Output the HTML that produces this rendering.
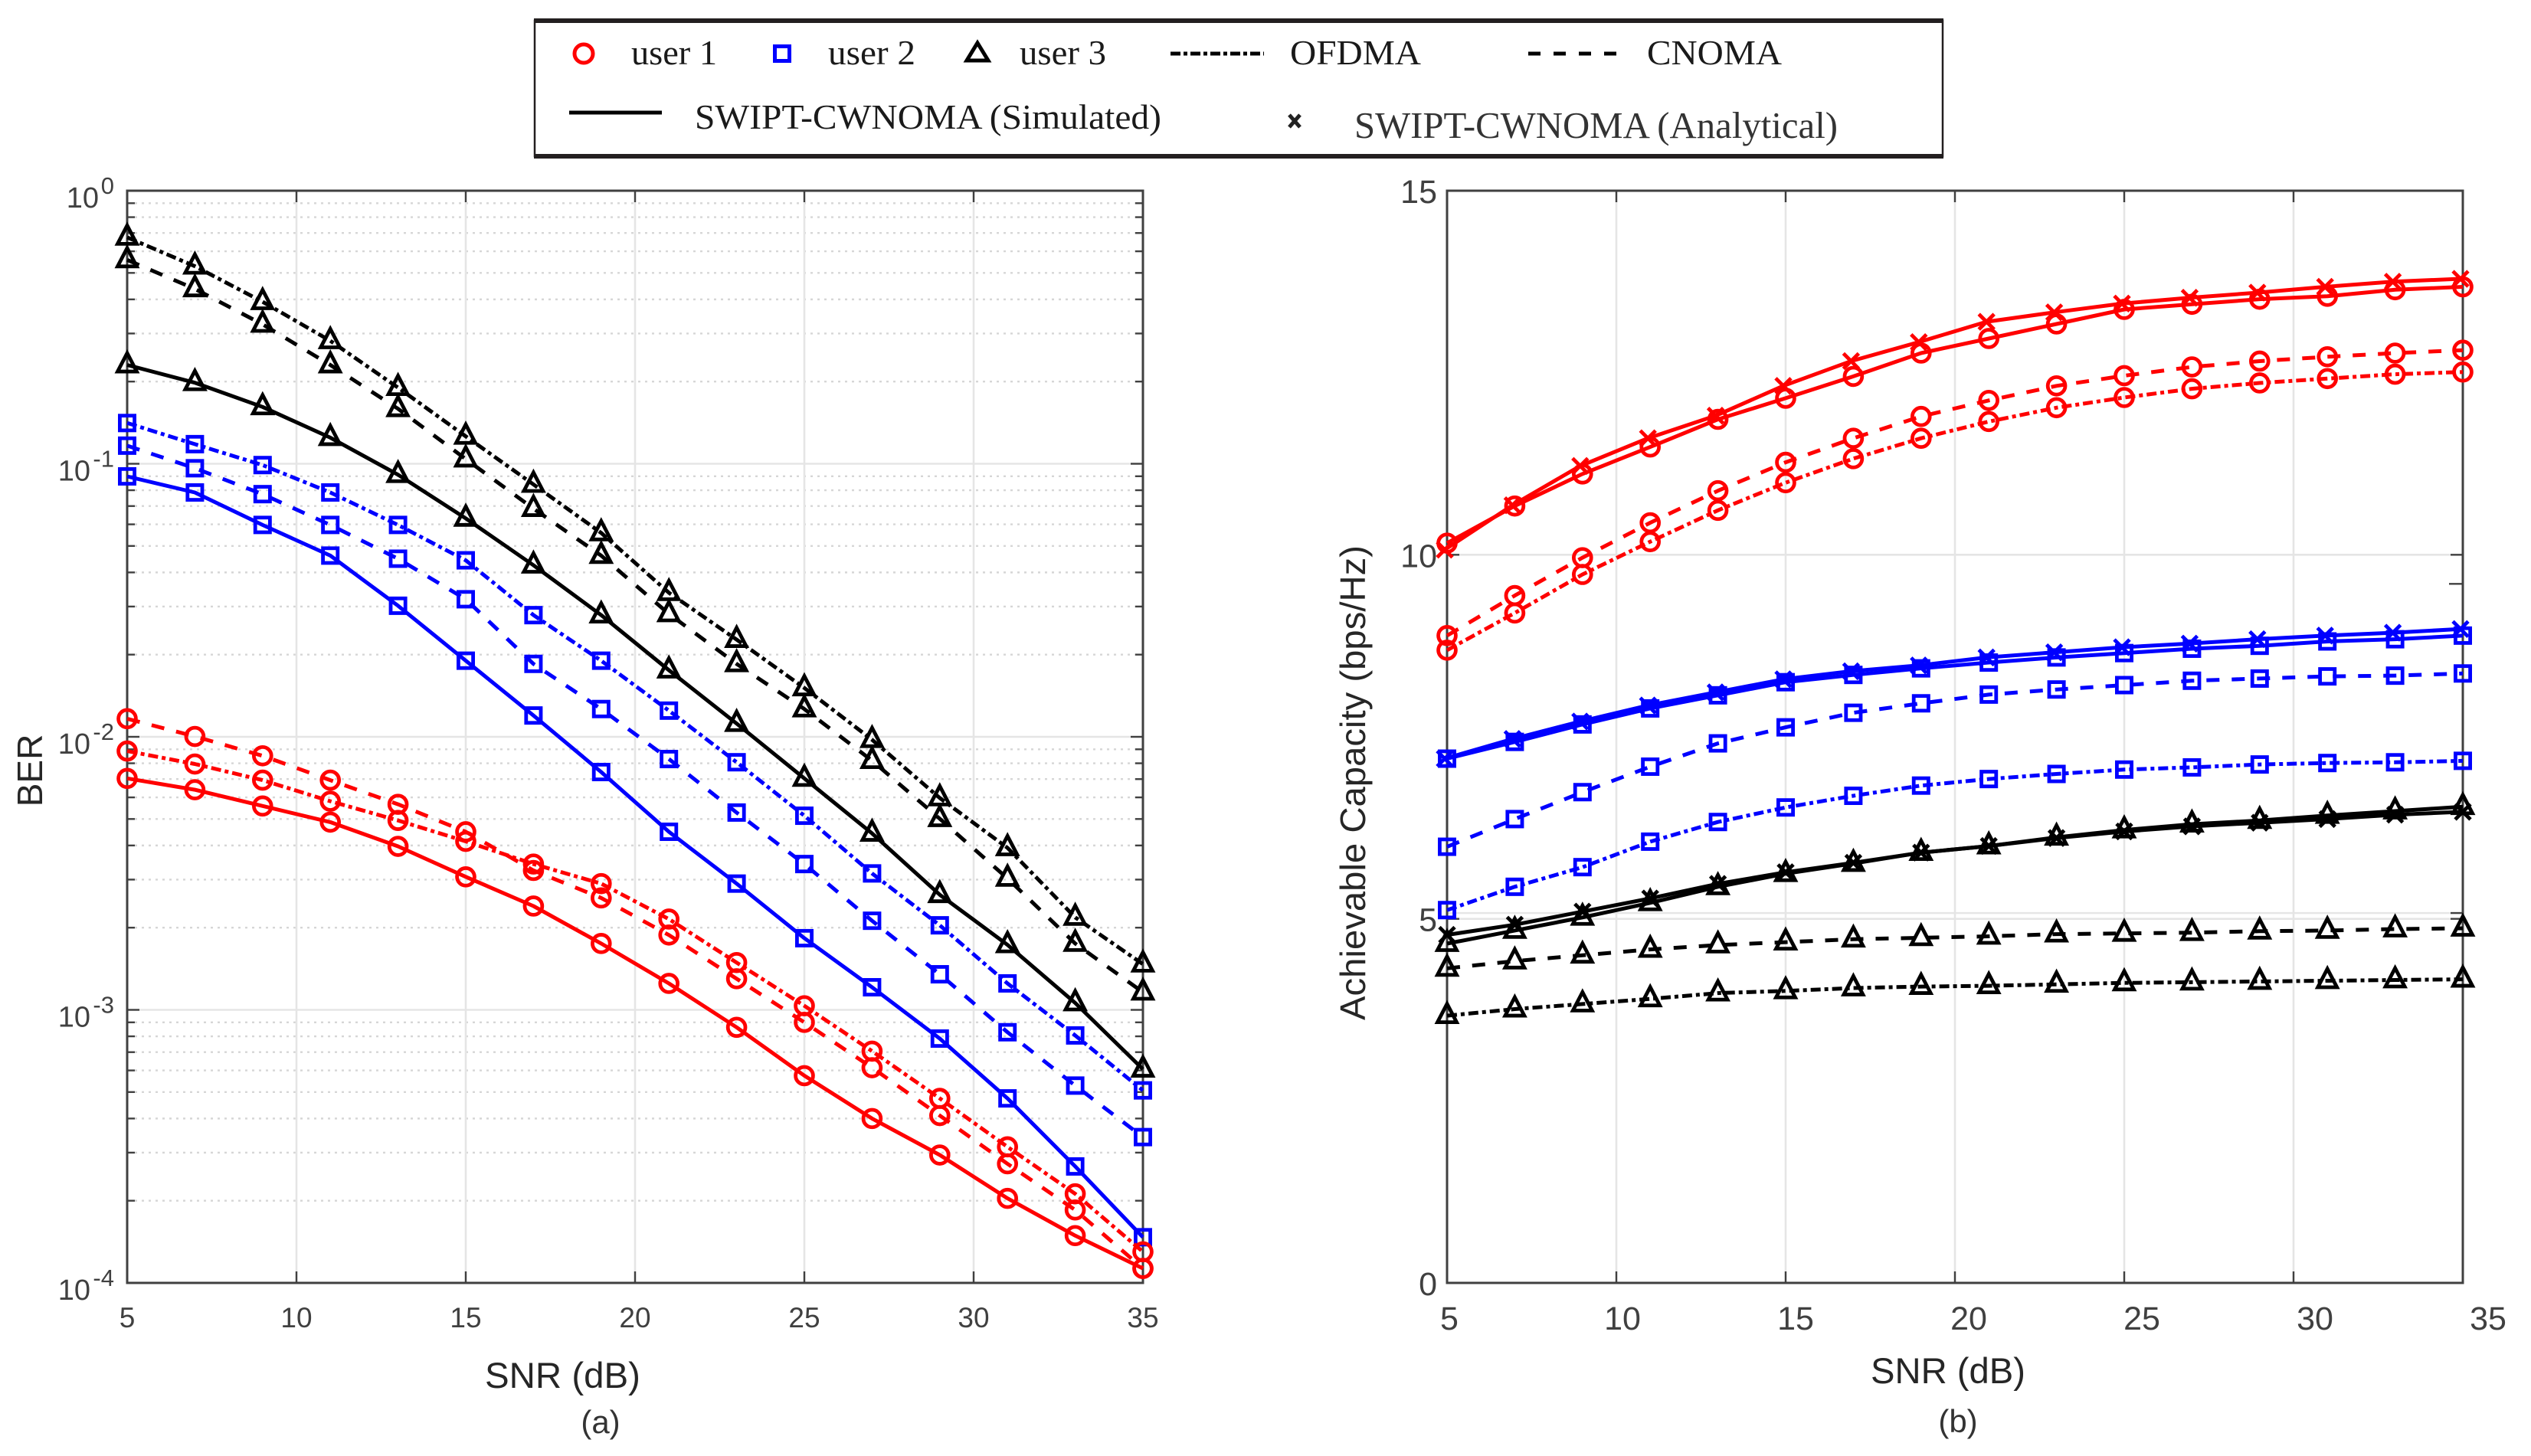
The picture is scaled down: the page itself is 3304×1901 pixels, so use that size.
<!DOCTYPE html>
<html lang="en">
<head>
<meta charset="utf-8">
<title>BER and Achievable Capacity versus SNR</title>
<style>
html,body{margin:0;padding:0;background:#fff;}
body{width:3304px;height:1901px;overflow:hidden;}
svg{display:block;}
.sans{font-family:"Liberation Sans",Arial,sans-serif;}
.serif{font-family:"Liberation Serif","Times New Roman",serif;}
</style>
</head>
<body>
<svg id="figure" xmlns="http://www.w3.org/2000/svg" width="3304" height="1901" viewBox="0 0 3304 1901">
  <rect x="0" y="0" width="3304" height="1901" fill="#fff"/>

  <g id="legend">
    <rect x="698" y="27" width="1838" height="177" fill="#fff" stroke="#231f20" stroke-width="2.5"/>
    <rect x="697" y="24" width="1840" height="6" fill="#231f20"/>
    <rect x="697" y="201" width="1840" height="6" fill="#231f20"/>

    <ellipse cx="762" cy="70" rx="12" ry="12" fill="none" stroke="#ff0000" stroke-width="5"/>
    <text x="824" y="84" class="serif" font-size="46" fill="#1a1a1a" textLength="112" lengthAdjust="spacingAndGlyphs">user 1</text>
    <rect x="1011.5" y="60.5" width="19" height="19" fill="none" stroke="#0000ff" stroke-width="5"/>
    <text x="1081" y="84" class="serif" font-size="46" fill="#1a1a1a" textLength="114" lengthAdjust="spacingAndGlyphs">user 2</text>
    <path d="M1276 56 L1290 79 L1262 79 Z" fill="none" stroke="#000" stroke-width="5"/>
    <text x="1331" y="84" class="serif" font-size="46" fill="#1a1a1a" textLength="113" lengthAdjust="spacingAndGlyphs">user 3</text>
    <line x1="1528" y1="70" x2="1650" y2="70" stroke="#000" stroke-width="5" stroke-dasharray="13 4 5 4"/>
    <text x="1684" y="84" class="serif" font-size="46" fill="#1a1a1a" textLength="171" lengthAdjust="spacingAndGlyphs">OFDMA</text>
    <line x1="1995" y1="70" x2="2110" y2="70" stroke="#000" stroke-width="5" stroke-dasharray="16 17"/>
    <text x="2150" y="84" class="serif" font-size="46" fill="#1a1a1a" textLength="176" lengthAdjust="spacingAndGlyphs">CNOMA</text>
    <line x1="743" y1="147" x2="864" y2="147" stroke="#000" stroke-width="5"/>
    <text x="907" y="168" class="serif" font-size="46" fill="#1a1a1a" textLength="609" lengthAdjust="spacingAndGlyphs">SWIPT-CWNOMA (Simulated)</text>
    <path d="M1683 150 L1697 166 M1697 150 L1683 166" stroke="#222" stroke-width="5" fill="none"/>
    <text x="1768" y="180" class="serif" font-size="49" fill="#333" textLength="631" lengthAdjust="spacingAndGlyphs">SWIPT-CWNOMA (Analytical)</text>
  </g>

  <g id="ber-plot"></g>
  <g id="capacity-plot"></g>

  <text transform="translate(55,1006) rotate(-90)" text-anchor="middle" class="sans" font-size="46" fill="#262626">BER</text>
  <text x="633" y="1812" class="sans" font-size="47" fill="#262626" textLength="203" lengthAdjust="spacingAndGlyphs">SNR (dB)</text>
  <text x="784" y="1871" text-anchor="middle" class="sans" font-size="42" fill="#333">(a)</text>

  <text transform="translate(1782,1022) rotate(-90)" text-anchor="middle" class="sans" font-size="46" fill="#262626" textLength="620" lengthAdjust="spacingAndGlyphs">Achievable Capacity (bps/Hz)</text>
  <text x="2442" y="1806" class="sans" font-size="47" fill="#262626" textLength="202" lengthAdjust="spacingAndGlyphs">SNR (dB)</text>
  <text x="2556" y="1870" text-anchor="middle" class="sans" font-size="42" fill="#333">(b)</text>
</svg>

<script>
// ---------- shared categories ----------
const snrValues = [5,7,9,11,13,15,17,19,21,23,25,27,29,31,33,35];
const snrTicks = [5,10,15,20,25,30,35];
const berExponents = [0,-1,-2,-3,-4];
const capacityTicks = [0,5,10,15];

// ---------- panel (a): BER ----------
const berOfdmaUser3 = [.675,.529,.392,.282,.190,.126,.0840,.0558,.0337,.0227,.0151,.00976,.00597,.00392,.00218,.00147];
const berCnomaUser3 = [.558,.437,.324,.230,.159,.104,.0685,.0461,.0282,.0185,.01264,.00818,.00501,.00303,.00175,.00116];
const berSimUser3 = [.230,.198,.1615,.1246,.0912,.0631,.0425,.0279,.01754,.01118,.00704,.00443,.00264,.00173,.00106,.000606];
const berOfdmaUser2 = [.141,.118,.0989,.0785,.0597,.0443,.0279,.0190,.01247,.00807,.00514,.00316,.00204,.00125,.000806,.000507];
const berCnomaUser2 = [.1165,.0963,.0774,.0597,.0449,.0319,.0185,.01264,.00829,.00528,.00342,.00212,.00135,.000828,.000528,.000342];
const berSimUser2 = [.0899,.0785,.0597,.0461,.0302,.0190,.01197,.00743,.00449,.0029,.00183,.00121,.000785,.000474,.000267,.000147];
const berOfdmaUser1 = [.00887,.00795,.00694,.00581,.00494,.00414,.00342,.0029,.00215,.00149,.001035,.000706,.000474,.000315,.000212,.00013];
const berCnomaUser1 = [.01165,.01003,.00852,.00694,.00566,.00449,.00324,.00257,.00188,.0013,.0009,.000614,.00041,.000273,.000185,.000113];
const berSimUser1 = [.00704,.0064,.00558,.00487,.00397,.00307,.0024,.00175,.00125,.000863,.000574,.0004,.000294,.000204,.000149,.000113];

// ---------- panel (b): capacity ----------
const capSimUser1 = [10.16,10.67,11.11,11.48,11.86,12.15,12.45,12.77,12.97,13.17,13.37,13.44,13.51,13.55,13.64,13.68];
const capAnaUser1 = [10.07,10.68,11.22,11.6,11.91,12.32,12.66,12.92,13.2,13.33,13.45,13.53,13.6,13.68,13.75,13.79];
const capCnomaUser1 = [8.89,9.44,9.96,10.44,10.88,11.27,11.6,11.9,12.12,12.32,12.46,12.58,12.66,12.72,12.77,12.81];
const capOfdmaUser1 = [8.69,9.2,9.73,10.18,10.61,10.99,11.32,11.6,11.83,12.02,12.16,12.28,12.36,12.42,12.48,12.51];
const capSimUser2 = [7.2,7.43,7.67,7.89,8.07,8.25,8.35,8.44,8.52,8.59,8.65,8.71,8.75,8.81,8.84,8.89];
const capAnaUser2 = [7.2,7.47,7.71,7.93,8.11,8.29,8.4,8.48,8.59,8.66,8.73,8.78,8.84,8.89,8.93,8.98];
const capCnomaUser2 = [5.99,6.37,6.74,7.09,7.41,7.63,7.83,7.96,8.08,8.15,8.21,8.27,8.3,8.33,8.34,8.37];
const capOfdmaUser2 = [5.12,5.44,5.71,6.06,6.33,6.53,6.69,6.83,6.92,6.99,7.05,7.08,7.12,7.14,7.15,7.17];
const capSimUser3 = [4.66,4.84,5.02,5.22,5.44,5.62,5.76,5.91,6.0,6.12,6.22,6.3,6.35,6.42,6.48,6.54];
const capAnaUser3 = [4.78,4.92,5.1,5.28,5.48,5.64,5.77,5.91,6.0,6.11,6.2,6.27,6.32,6.37,6.43,6.47];
const capCnomaUser3 = [4.32,4.42,4.5,4.58,4.64,4.68,4.72,4.74,4.76,4.79,4.8,4.81,4.83,4.84,4.86,4.87];
const capOfdmaUser3 = [3.67,3.76,3.83,3.9,3.98,4.01,4.05,4.07,4.08,4.1,4.12,4.13,4.14,4.15,4.16,4.17];

// ---------- axis functions ----------
const L = {left:166, right:1492, top:249, bottom:1675};
const R = {left:1889, right:3215, top:249, bottom:1675};
function xBer(v){ return L.left + (v-5)*(L.right-L.left)/30; }
function yBer(v){ return L.top + (0-Math.log10(v))*(L.bottom-L.top)/4; }
function xCap(v){ return R.left + (v-5)*(R.right-R.left)/30; }
function yCap(v){ return R.bottom - v*(R.bottom-R.top)/15; }

const NS = 'http://www.w3.org/2000/svg';
const AXIS = '#404040';
const DASH = '17 16';
const DASHDOT = '13 5 5 5';

function el(parent, tag, attrs){
  const e = document.createElementNS(NS, tag);
  for (const k in attrs) e.setAttribute(k, attrs[k]);
  parent.appendChild(e);
  return e;
}
function rule(parent, name, x1, y1, x2, y2, color, w, dash){
  const l = el(parent, 'line', {x1:x1, y1:y1, x2:x2, y2:y2, stroke:color, 'stroke-width':w});
  if (dash) l.setAttribute('stroke-dasharray', dash);
  
  
  return l;
}
function label(parent, name, x, y, str, size, anchor){
  const t = el(parent, 'text', {x:x, y:y, 'font-size':size, fill:AXIS, 'text-anchor':anchor, 'class':'sans'});
  t.textContent = str;
  
  
  return t;
}
function marker(parent, kind, px, py, color){
  let m;
  if (kind === 'circle') {
    m = el(parent, 'circle', {cx:px, cy:py, r:11.4, fill:'none', stroke:color, 'stroke-width':4.8});
  } else if (kind === 'square') {
    m = el(parent, 'rect', {x:px-9.6, y:py-9.6, width:19.2, height:19.2, fill:'none', stroke:color, 'stroke-width':4.8});
  } else if (kind === 'triangle') {
    m = el(parent, 'path', {d:'M'+px+' '+(py-15.5)+' L'+(px+12.5)+' '+(py+8.5)+' L'+(px-12.5)+' '+(py+8.5)+' Z', fill:'none', stroke:color, 'stroke-width':4.8});
  } else {
    m = el(parent, 'path', {d:'M'+(px-10)+' '+(py-10)+' L'+(px+10)+' '+(py+10)+' M'+(px+10)+' '+(py-10)+' L'+(px-10)+' '+(py+10), fill:'none', stroke:color, 'stroke-width':4.8});
  }
  
  
}
function series(parent, name, values, xFn, yFn, color, dash, kind, width, shift){
  const g = el(parent, 'g', {});
  
  
  const pts = values.map(function(v,i){ return [xFn(snrValues[i]) + shift, yFn(v)]; });
  const line = el(g, 'polyline', {points:pts.map(function(p){return p[0].toFixed(1)+','+p[1].toFixed(1);}).join(' '), fill:'none', stroke:color, 'stroke-width':width, 'stroke-linejoin':'round'});
  if (dash) line.setAttribute('stroke-dasharray', dash);
  
  
  pts.forEach(function(p){ marker(g, kind, p[0], p[1], color); });
}

// ---------- panel (a) frame ----------
(function(){
  const g = document.getElementById('ber-plot');
  berExponents.slice(0,4).forEach(function(e){
    for (let m = 2; m <= 9; m++) {
      const y = yBer(m * Math.pow(10, e-1));
      rule(g, 'minor-grid-line', L.left+10, y, L.right-10, y, '#d6d6d6', 2.4, '3 6');
      rule(g, 'minor-tick-left', L.left, y, L.left+10, y, AXIS, 2.4);
      rule(g, 'minor-tick-right', L.right-10, y, L.right, y, AXIS, 2.4);
    }
  });
  berExponents.slice(1,4).forEach(function(e){
    const y = yBer(Math.pow(10, e));
    rule(g, 'major-grid-line', L.left, y, L.right, y, '#e5e5e5', 2.6);
    rule(g, 'major-tick-left', L.left, y, L.left+16, y, AXIS, 2.4);
    rule(g, 'major-tick-right', L.right-16, y, L.right, y, AXIS, 2.4);
  });
  snrTicks.slice(1,6).forEach(function(v){
    const x = xBer(v);
    rule(g, 'vertical-grid-line', x, L.top, x, L.bottom, '#e5e5e5', 2.6);
    rule(g, 'x-tick-top', x, L.top, x, L.top+15, AXIS, 2.4);
    rule(g, 'x-tick-bottom', x, L.bottom-15, x, L.bottom, AXIS, 2.4);
  });
  const frame = el(g, 'rect', {x:L.left, y:L.top, width:L.right-L.left, height:L.bottom-L.top, fill:'none', stroke:AXIS, 'stroke-width':3});
  
  

  snrTicks.forEach(function(v){
    label(g, 'ber-x-tick-label', xBer(v), 1733, String(v), 37, 'middle');
  });
  berExponents.forEach(function(e){
    const y = yBer(Math.pow(10, e));
    label(g, 'ber-y-tick-base', e === 0 ? 129 : 118, y+22, '10', 38, 'end');
    label(g, 'ber-y-tick-exponent', 149, y+4, String(e), 31, 'end');
  });

  series(g, 'ber-ofdma-user-3', berOfdmaUser3, xBer, yBer, '#000', DASHDOT, 'triangle', 5, 0);
  series(g, 'ber-cnoma-user-3', berCnomaUser3, xBer, yBer, '#000', DASH, 'triangle', 5, 0);
  series(g, 'ber-simulated-user-3', berSimUser3, xBer, yBer, '#000', null, 'triangle', 5, 0);
  series(g, 'ber-ofdma-user-2', berOfdmaUser2, xBer, yBer, '#0000ff', DASHDOT, 'square', 5, 0);
  series(g, 'ber-cnoma-user-2', berCnomaUser2, xBer, yBer, '#0000ff', DASH, 'square', 5, 0);
  series(g, 'ber-simulated-user-2', berSimUser2, xBer, yBer, '#0000ff', null, 'square', 5, 0);
  series(g, 'ber-ofdma-user-1', berOfdmaUser1, xBer, yBer, '#ff0000', DASHDOT, 'circle', 5, 0);
  series(g, 'ber-cnoma-user-1', berCnomaUser1, xBer, yBer, '#ff0000', DASH, 'circle', 5, 0);
  series(g, 'ber-simulated-user-1', berSimUser1, xBer, yBer, '#ff0000', null, 'circle', 5, 0);
})();

// ---------- panel (b) frame ----------
(function(){
  const g = document.getElementById('capacity-plot');
  [5,10].forEach(function(v){
    const y = yCap(v);
    rule(g, 'horizontal-grid-line', R.left, y, R.right, y, '#e5e5e5', 2.6);
    rule(g, 'y-tick-left', R.left, y, R.left+16, y, AXIS, 2.4);
    rule(g, 'y-tick-right', R.right-16, y, R.right, y, AXIS, 2.4);
  });
  rule(g, 'duplicate-grid-line', R.left, yCap(5.08), R.right, yCap(5.08), '#e5e5e5', 2.4);
  rule(g, 'extra-y-tick-right', R.right-16, yCap(5.08), R.right, yCap(5.08), AXIS, 2.4);
  rule(g, 'extra-y-tick-right', R.right-18, yCap(9.6), R.right-1, yCap(9.6), AXIS, 2.4);
  snrTicks.slice(1,6).forEach(function(v){
    const x = xCap(v);
    rule(g, 'vertical-grid-line', x, R.top, x, R.bottom, '#e5e5e5', 2.6);
    rule(g, 'x-tick-top', x, R.top, x, R.top+15, AXIS, 2.4);
    rule(g, 'x-tick-bottom', x, R.bottom-15, x, R.bottom, AXIS, 2.4);
  });
  const frame = el(g, 'rect', {x:R.left, y:R.top, width:R.right-R.left, height:R.bottom-R.top, fill:'none', stroke:AXIS, 'stroke-width':3});
  
  

  snrTicks.forEach(function(v){
    label(g, 'capacity-x-tick-label', 1892 + (v-5)*45.2, 1736, String(v), 43, 'middle');
  });
  capacityTicks.forEach(function(v){
    label(g, 'capacity-y-tick-label', 1876, yCap(v)+16, String(v), 43, 'end');
  });

  series(g, 'capacity-ofdma-user-3', capOfdmaUser3, xCap, yCap, '#000', DASHDOT, 'triangle', 5, 0);
  series(g, 'capacity-cnoma-user-3', capCnomaUser3, xCap, yCap, '#000', DASH, 'triangle', 5, 0);
  series(g, 'capacity-simulated-user-3', capSimUser3, xCap, yCap, '#000', null, 'triangle', 5, 0);
  series(g, 'capacity-analytical-user-3', capAnaUser3, xCap, yCap, '#000', null, 'cross', 5, 0);
  series(g, 'capacity-ofdma-user-2', capOfdmaUser2, xCap, yCap, '#0000ff', DASHDOT, 'square', 5, 0);
  series(g, 'capacity-cnoma-user-2', capCnomaUser2, xCap, yCap, '#0000ff', DASH, 'square', 5, 0);
  series(g, 'capacity-simulated-user-2', capSimUser2, xCap, yCap, '#0000ff', null, 'square', 5, 0);
  series(g, 'capacity-analytical-user-2', capAnaUser2, xCap, yCap, '#0000ff', null, 'cross', 5, -3);
  series(g, 'capacity-ofdma-user-1', capOfdmaUser1, xCap, yCap, '#ff0000', DASHDOT, 'circle', 5, 0);
  series(g, 'capacity-cnoma-user-1', capCnomaUser1, xCap, yCap, '#ff0000', DASH, 'circle', 5, 0);
  series(g, 'capacity-simulated-user-1', capSimUser1, xCap, yCap, '#ff0000', null, 'circle', 5, 0);
  series(g, 'capacity-analytical-user-1', capAnaUser1, xCap, yCap, '#ff0000', null, 'cross', 5, -3);
})();
</script>
</body>
</html>
